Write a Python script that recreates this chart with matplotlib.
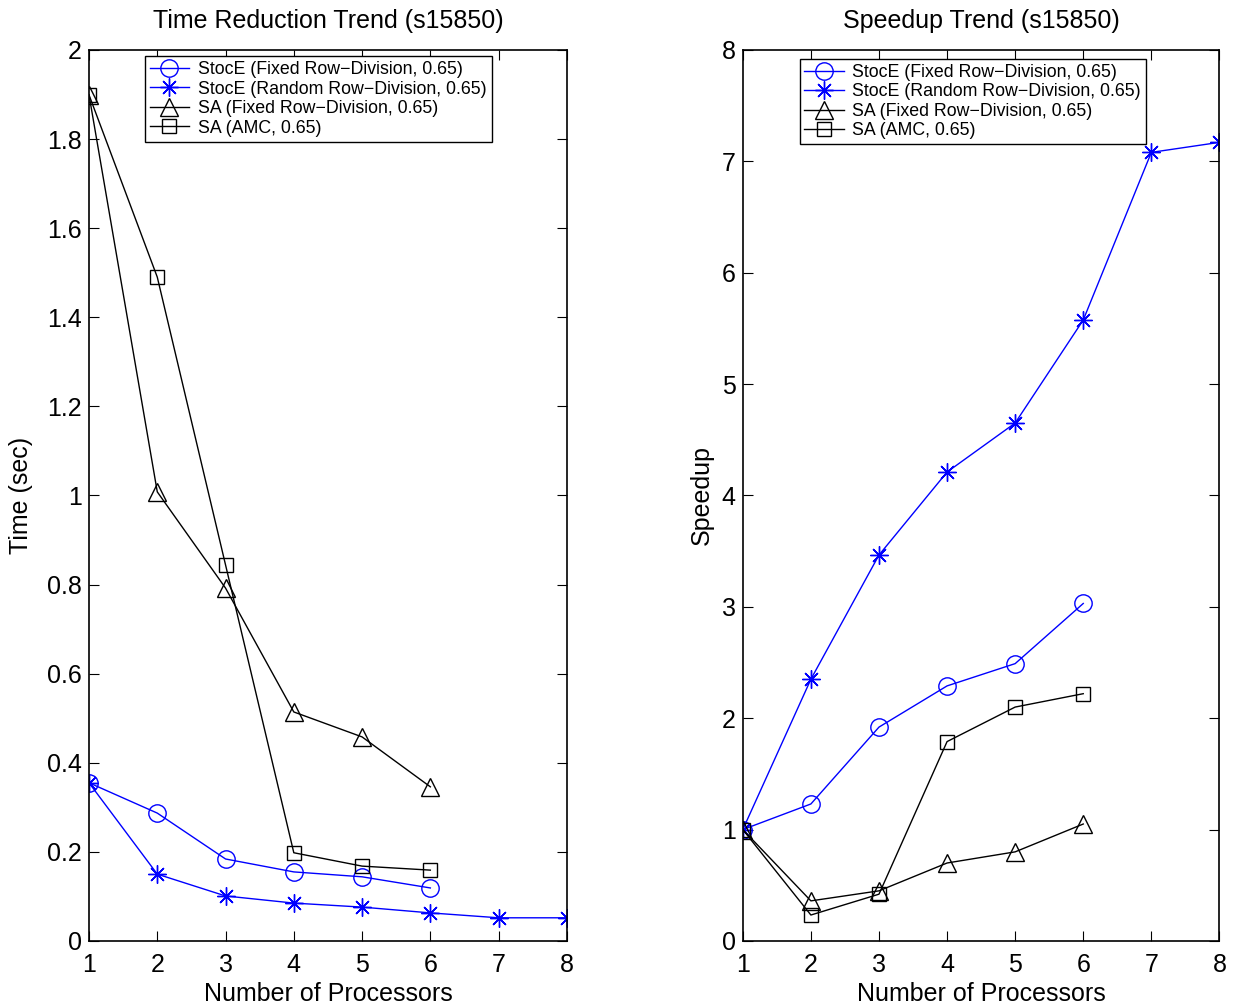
import numpy as np
import matplotlib
matplotlib.use("Agg")
import matplotlib.pyplot as plt

plt.rcParams['font.family'] = ['Liberation Sans', 'DejaVu Sans']

# number of processors
procs = [1, 2, 3, 4, 5, 6, 7, 8]
procs6 = [1, 2, 3, 4, 5, 6]

labels = ["StocE (Fixed Row\u2212Division, 0.65)",
          "StocE (Random Row\u2212Division, 0.65)",
          "SA (Fixed Row\u2212Division, 0.65)",
          "SA (AMC, 0.65)"]

# time (sec)
time_stoce_fixed = [0.355, 0.287, 0.184, 0.155, 0.144, 0.119]
time_stoce_random = [0.355, 0.150, 0.101, 0.085, 0.076, 0.063, 0.052, 0.052]
time_sa_fixed = [1.899, 1.008, 0.792, 0.514, 0.458, 0.346]
time_sa_amc = [1.899, 1.490, 0.844, 0.198, 0.168, 0.159]

# speedup
sp_stoce_fixed = [1.0, 1.23, 1.92, 2.29, 2.49, 3.03]
sp_stoce_random = [1.0, 2.35, 3.465, 4.21, 4.65, 5.575, 7.08, 7.17]
sp_sa_fixed = [1.0, 0.36, 0.45, 0.70, 0.80, 1.05]
sp_sa_amc = [1.0, 0.233, 0.42, 1.79, 2.10, 2.22]

asterisk = (8, 2, 0)
blue = "#0000ff"
fs = 18

fig = plt.figure(figsize=(12.38, 10.08), dpi=100)
ax1 = fig.add_axes([0.0719, 0.0665, 0.386, 0.884])
ax2 = fig.add_axes([0.600, 0.0665, 0.385, 0.884])

def draw(ax, s1, s2, s3, s4):
    ax.plot(procs6, s1, color=blue, lw=1, marker='o', ms=12.5, mfc='none', mew=1, label=labels[0])
    ax.plot(procs, s2, color=blue, lw=1, marker=asterisk, ms=13, mew=1, label=labels[1])
    ax.plot(procs6, s3, color='black', lw=1, marker='^', ms=13, mfc='none', mew=1, label=labels[2])
    ax.plot(procs6, s4, color='black', lw=1, marker='s', ms=10, mfc='none', mew=1, label=labels[3])
    ax.set_xlim(1, 8)
    ax.set_xticks(procs)
    ax.set_xlabel("Number of Processors", fontsize=fs, labelpad=3)
    ax.tick_params(direction='in', top=True, right=True, length=7, width=0.8, labelsize=fs)
    ax.tick_params(axis='x', pad=9)
    ax.tick_params(axis='y', pad=5)
    for sp in ax.spines.values():
        sp.set_linewidth(1.2)

def add_legend(ax, anchor):
    leg = ax.legend(loc='upper left', bbox_to_anchor=anchor, fontsize=12.8, frameon=True,
                    fancybox=False, edgecolor='black', framealpha=1, borderpad=0.28,
                    labelspacing=0.14, handlelength=2.2, handletextpad=0.5, borderaxespad=0)
    leg.get_frame().set_linewidth(1)

draw(ax1, time_stoce_fixed, time_stoce_random, time_sa_fixed, time_sa_amc)
ax1.set_ylim(0, 2)
ax1.set_yticks(np.arange(0, 2.01, 0.2))
ax1.set_yticklabels(["0", "0.2", "0.4", "0.6", "0.8", "1", "1.2", "1.4", "1.6", "1.8", "2"])
ax1.set_ylabel("Time (sec)", fontsize=fs, labelpad=10)
ax1.set_title("Time Reduction Trend (s15850)", fontsize=fs, pad=16)
add_legend(ax1, (0.117, 0.993))

draw(ax2, sp_stoce_fixed, sp_stoce_random, sp_sa_fixed, sp_sa_amc)
ax2.set_ylim(0, 8)
ax2.set_yticks(range(0, 9))
ax2.set_ylabel("Speedup", fontsize=fs, labelpad=6)
ax2.set_title("Speedup Trend (s15850)", fontsize=fs, pad=16)
add_legend(ax2, (0.119, 0.99))

fig.savefig("out.png", dpi=100)
